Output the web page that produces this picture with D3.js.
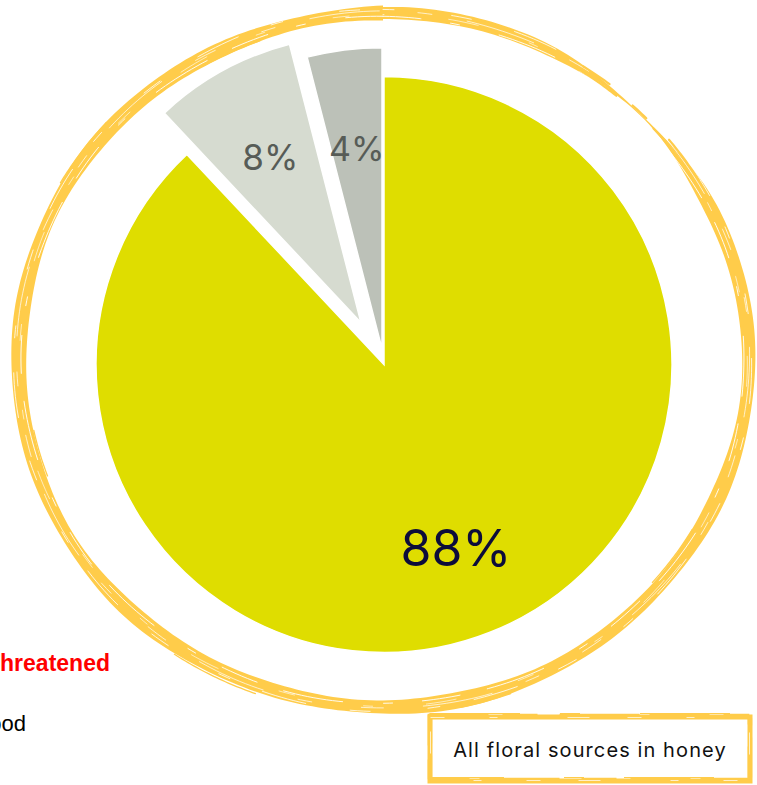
<!DOCTYPE html>
<html>
<head>
<meta charset="utf-8">
<script src="https://cdn.jsdelivr.net/npm/d3@7"></script>
<style>
  html, body { margin: 0; padding: 0; background: #ffffff; }
  svg { display: block; }
</style>
</head>
<body>
<svg id="chart" width="757" height="785"></svg>
<script>
// Floral sources found in honey
const categories = ["Main floral source", "Secondary source", "Minor source"];
const shares = [88, 8, 4];
const labels = ["88%", "8%", "4%"];

// Slice styling
const sliceColors = ["#dfdd00", "#d6dbd0", "#bcc1b8"];
const labelColors = ["#0c0c3a", "#575c57", "#575c57"];
const labelSizes = [50, 35, 34];
const pullOut = [0, 48, 16];          // explode distance along the slice bisector
const radiusScale = [1, 0.997, 1.045]; // relative outer radius of each slice
const labelRadius = [0.685, 0.655, 0.67];
const labelAngleDeg = [158.6, null, null]; // null -> slice bisector

const svg = d3.select("#chart");

const cx = 384, cy = 364.5, R = 288;
const ringColor = "#ffcc4a";

// ---------- hand-drawn ring ----------
const ring = svg.append("g").attr("class", "ring");
const ecx = 383, ecy = 360, erx = 365, ery = 347;
const deg = Math.PI / 180;

function ellipsePt(t, off) {
  return [ecx + (erx + off) * Math.sin(t), ecy - (ery + off) * Math.cos(t)];
}
function ringWidth(tDeg) {
  const taper = 1 - 0.9 * Math.exp(-Math.pow((tDeg - 45) / 13, 2));
  const thinTop = 1 - 0.2 * Math.exp(-Math.pow((tDeg - 5) / 35, 2));
  const wobble = 1 + 0.1 * Math.sin(tDeg * deg * 7) + 0.07 * Math.sin(tDeg * deg * 13 + 1);
  return 14 * taper * thinTop * wobble;
}
const angles = d3.range(0, 361, 1);
const outer = angles.map(a => ellipsePt(a * deg, ringWidth(a) / 2 + 0.8 * Math.sin(a * deg * 5)));
const inner = angles.map(a => ellipsePt(a * deg, -ringWidth(a) / 2 + 0.8 * Math.sin(a * deg * 5))).reverse();
ring.append("path")
  .attr("d", d3.line()(outer.concat(inner)) + "Z")
  .attr("fill", ringColor);

// brush streaks: thin white gaps inside the band
const streaks = [
  { off: -3.5, w: 0.9, dash: "38 30 9 41 60 28", shift: 0 },
  { off: 1.5,  w: 0.7, dash: "22 50 14 36 70 40", shift: 37 },
  { off: 4.0,  w: 0.8, dash: "45 35 12 58 20 45", shift: 81 },
  { off: -1.0, w: 0.6, dash: "16 65 30 54 9 70", shift: 15 }
];
streaks.forEach(s => {
  const pts = angles.map(a => ellipsePt(a * deg, s.off + 0.6 * Math.sin(a * deg * 9 + s.off)));
  ring.append("path")
    .attr("d", d3.line()(pts))
    .attr("fill", "none")
    .attr("stroke", "#ffffff")
    .attr("stroke-width", s.w)
    .attr("stroke-dasharray", s.dash)
    .attr("stroke-dashoffset", s.shift)
    .attr("stroke-linecap", "round");
});
// a few loose bristles along the band edges
const bristles = [
  { a0: 200, a1: 214, off: 8 }, { a0: 250, a1: 258, off: -8 },
  { a0: 300, a1: 312, off: 7.5 }, { a0: 120, a1: 131, off: -8 },
  { a0: 160, a1: 168, off: 8 }, { a0: 330, a1: 340, off: -7 }
];
// dry-brush marks across the thin top-right stretch
const dry = [
  { a0: 30, a1: 40, off: -2 }, { a0: 33, a1: 38, off: 3 },
  { a0: 43, a1: 46, off: 1 }, { a0: 48, a1: 55, off: -1 }, { a0: 51, a1: 59, off: 3 }
];
bristles.concat(dry).forEach((d, k) => {
  const pts = d3.range(d.a0, d.a1 + 0.5, 0.5).map(a => ellipsePt(a * deg, d.off));
  ring.append("path")
    .attr("d", d3.line()(pts))
    .attr("fill", "none")
    .attr("stroke", ringColor)
    .attr("stroke-width", k < bristles.length ? 1.3 : 2.2)
    .attr("stroke-linecap", "round");
});

// ---------- pie ----------
const pie = d3.pie().sort(null).startAngle(0).endAngle(2 * Math.PI);
const arcs = pie(shares);

const pieG = svg.append("g").attr("transform", `translate(${cx},${cy})`);
const slices = pieG.selectAll("g.slice")
  .data(arcs)
  .join("g")
  .attr("class", "slice")
  .attr("transform", (d, i) => {
    const mid = (d.startAngle + d.endAngle) / 2;
    return `translate(${Math.sin(mid) * pullOut[i]},${-Math.cos(mid) * pullOut[i]})`;
  });

slices.append("path")
  .attr("d", (d, i) => d3.arc().innerRadius(0).outerRadius(R * radiusScale[i])(d))
  .attr("fill", (d, i) => sliceColors[i])
  .attr("stroke", "#ffffff")
  .attr("stroke-width", 1.5);

slices.append("text")
  .attr("transform", (d, i) => {
    const a = labelAngleDeg[i] != null ? labelAngleDeg[i] * deg : (d.startAngle + d.endAngle) / 2;
    const rr = R * radiusScale[i] * labelRadius[i];
    return `translate(${Math.sin(a) * rr},${-Math.cos(a) * rr})`;
  })
  .attr("text-anchor", "middle")
  .attr("dy", "0.36em")
  .attr("font-family", "Inter, 'Noto Sans', sans-serif")
  .attr("font-size", (d, i) => labelSizes[i])
  .attr("fill", (d, i) => labelColors[i])
  .text((d, i) => labels[i]);

// ---------- legend entries at the left edge ----------
svg.append("text")
  .attr("x", 110).attr("y", 671)
  .attr("text-anchor", "end")
  .attr("font-family", "'Liberation Sans', Arial, sans-serif")
  .attr("font-weight", "bold")
  .attr("font-size", 23)
  .attr("fill", "#ff0000")
  .text("Threatened");

svg.append("text")
  .attr("x", 26).attr("y", 731)
  .attr("text-anchor", "end")
  .attr("font-family", "'Liberation Sans', Arial, sans-serif")
  .attr("font-size", 22)
  .attr("fill", "#000000")
  .text("Food");

// ---------- caption box ----------
const box = svg.append("g").attr("class", "caption");
const bx = 430, by = 717, bw = 320, bh = 64;
box.append("rect")
  .attr("x", bx).attr("y", by).attr("width", bw).attr("height", bh)
  .attr("fill", "#ffffff")
  .attr("stroke", ringColor)
  .attr("stroke-width", 5);
const boxStrokes = [
  { dx: -1.5, dy: -2.5, w: 1.6, dash: "60 14 35 22 80 10" },
  { dx: 1.5, dy: 1.5, w: 1.2, dash: "25 30 70 12 40 25" },
  { dx: 0, dy: -3.5, w: 1.2, dash: "90 40 20 60" }
];
boxStrokes.forEach(s => {
  box.append("rect")
    .attr("x", bx + s.dx).attr("y", by + s.dy).attr("width", bw).attr("height", bh)
    .attr("fill", "none")
    .attr("stroke", ringColor)
    .attr("stroke-width", s.w)
    .attr("stroke-dasharray", s.dash);
});
box.append("rect")
  .attr("x", bx + 0.5).attr("y", by + 0.5).attr("width", bw - 1).attr("height", bh - 1)
  .attr("fill", "none")
  .attr("stroke", "#ffffff")
  .attr("stroke-width", 0.7)
  .attr("stroke-dasharray", "14 45 8 70 22 38");
box.append("text")
  .attr("x", 590).attr("y", 757)
  .attr("text-anchor", "middle")
  .attr("font-family", "Inter, 'Noto Sans', sans-serif")
  .attr("font-size", 20)
  .attr("letter-spacing", 1.1)
  .attr("fill", "#111111")
  .text("All floral sources in honey");
</script>
</body>
</html>
